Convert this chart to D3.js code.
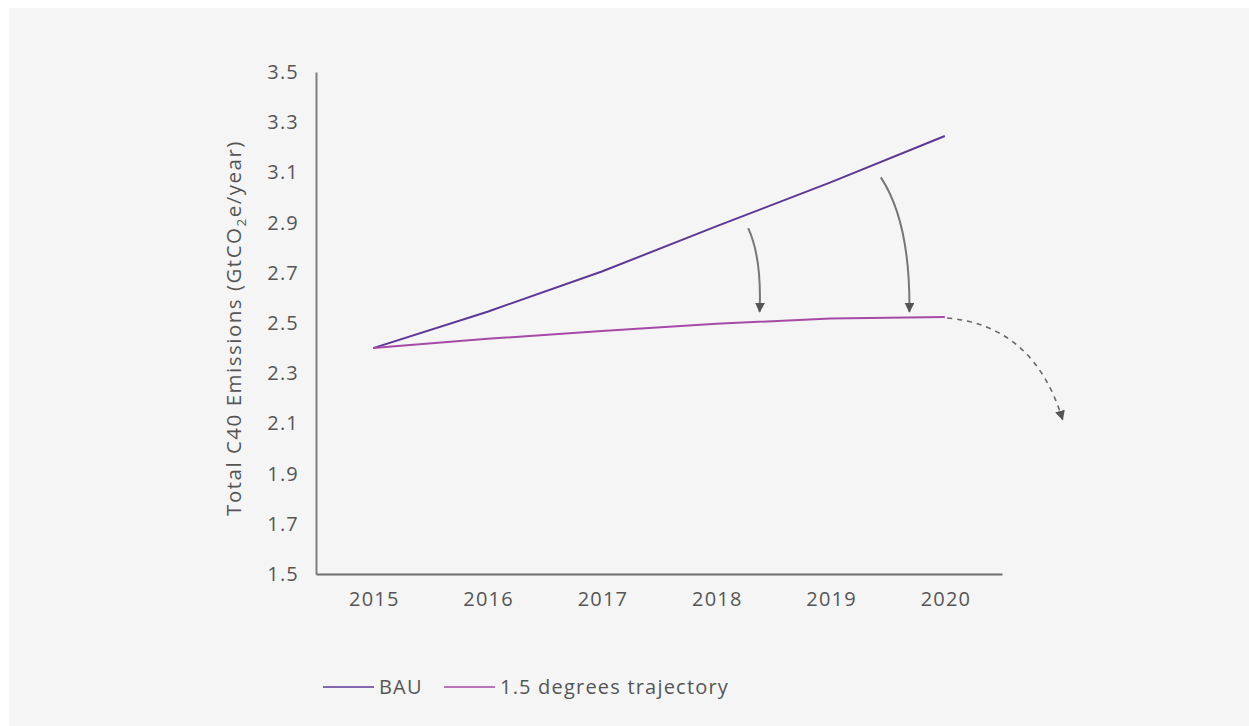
<!DOCTYPE html>
<html>
<head>
<meta charset="utf-8">
<script src="https://cdn.jsdelivr.net/npm/d3@7"></script>
<style>
  html, body { margin: 0; padding: 0; background: #ffffff; }
  svg { display: block; }
  text { font-family: "Open Sans", Lato, sans-serif; fill: #555555; }
</style>
</head>
<body>
<svg id="chart" width="1249" height="726"></svg>
<script>
// ---- data ----
const years = [2015, 2016, 2017, 2018, 2019, 2020];
const bau = [2.40, 2.545, 2.705, 2.885, 3.06, 3.245];
const trajectory = [2.40, 2.437, 2.468, 2.497, 2.518, 2.524];
const yTicks = [1.5, 1.7, 1.9, 2.1, 2.3, 2.5, 2.7, 2.9, 3.1, 3.3, 3.5];
const seriesNames = ["BAU", "1.5 degrees trajectory"];
// annotation arrows in data units (year, GtCO2e)
const arrows = [
  { from: [2018.28, 2.878], ctrl: [2018.40, 2.76], to: [2018.38, 2.545], dashed: false },
  { from: [2019.44, 3.08], ctrl: [2019.70, 2.90], to: [2019.69, 2.545], dashed: false },
  { from: [2020.02, 2.52], ctrl: [2020.78, 2.49], to: [2021.03, 2.115], dashed: true }
];

// ---- layout ----
const svg = d3.select("#chart");
const W = 1249, H = 726;
const margin = { left: 316, right: 247, top: 72, bottom: 152 };
const x0 = margin.left, x1 = W - margin.right;
const yTop = margin.top, yBot = H - margin.bottom;
const FONT = "'Open Sans', Lato, sans-serif";
const FS = 20, LS = 1.2;

svg.append("rect").attr("x", 9).attr("y", 8).attr("width", W - 9).attr("height", H - 8).attr("fill", "#f5f5f5");

const x = d3.scalePoint().domain(years).range([x0, x1]).padding(0.5);
const xLin = d3.scaleLinear().domain([years[0] - 0.5, years[years.length - 1] + 0.5]).range([x0, x1]);
const y = d3.scaleLinear().domain([1.5, 3.5]).range([yBot, yTop]);

// axes
const yAxis = d3.axisLeft(y).tickValues(yTicks).tickFormat(d3.format(".1f")).tickSize(0).tickPadding(17);
const gy = svg.append("g").attr("transform", `translate(${x0},0)`).call(yAxis);
gy.select(".domain").attr("stroke", "#7f7f7f").attr("stroke-width", 2);
gy.selectAll("text").attr("font-size", FS).attr("letter-spacing", LS).attr("fill", "#555").attr("font-family", FONT);

const xAxis = d3.axisBottom(x).tickSize(0).tickPadding(18);
const gx = svg.append("g").attr("transform", `translate(0,${yBot})`).call(xAxis);
gx.select(".domain").attr("stroke", "#6f6f6f").attr("stroke-width", 2);
gx.selectAll("text").attr("font-size", FS).attr("letter-spacing", LS).attr("fill", "#555").attr("font-family", FONT)
  .attr("dx", LS / 2);

// y label
const yl = svg.append("text")
  .attr("transform", `translate(241,${(yTop + yBot) / 2 + 5}) rotate(-90)`)
  .attr("text-anchor", "middle")
  .attr("font-size", 20.5)
  .attr("letter-spacing", 1.5);
yl.append("tspan").text("Total C40 Emissions (GtCO");
yl.append("tspan").text("2").attr("font-size", 13.5).attr("dy", 5);
yl.append("tspan").text("e/year)").attr("dy", -5);

// lines
const colors = ["#5d3795", "#a54aa6"];
const line = d3.line().x((d, i) => x(years[i])).y(d => y(d));
[bau, trajectory].forEach((s, k) => {
  svg.append("path").datum(s).attr("d", line).attr("fill", "none")
    .attr("stroke", colors[k]).attr("stroke-width", 2);
});

// arrow markers
const defs = svg.append("defs");
defs.append("marker").attr("id", "ah").attr("viewBox", "0 0 10 10")
  .attr("refX", 9).attr("refY", 5).attr("markerWidth", 10).attr("markerHeight", 10)
  .attr("markerUnits", "userSpaceOnUse").attr("orient", "auto")
  .append("path").attr("d", "M0,0 L10,5 L0,10 Z").attr("fill", "#555");

arrows.forEach(a => {
  const p = d3.path();
  p.moveTo(xLin(a.from[0]), y(a.from[1]));
  p.quadraticCurveTo(xLin(a.ctrl[0]), y(a.ctrl[1]), xLin(a.to[0]), y(a.to[1]));
  svg.append("path").attr("d", p.toString()).attr("fill", "none")
    .attr("stroke", a.dashed ? "#666" : "#777").attr("stroke-width", a.dashed ? 1.6 : 2)
    .attr("stroke-dasharray", a.dashed ? "5,5" : null)
    .attr("marker-end", "url(#ah)");
});

// legend
const lg = svg.append("g").attr("transform", "translate(323,687)");
seriesNames.forEach((n, k) => {
  const g = lg.append("g").attr("transform", `translate(${k === 0 ? 0 : 121},0)`);
  g.append("line").attr("x1", 0).attr("x2", 51).attr("y1", 0).attr("y2", 0)
    .attr("stroke", colors[k]).attr("stroke-width", 1.5);
  g.append("text").attr("x", 56).attr("y", 7).attr("font-size", FS).attr("letter-spacing", LS).text(n);
});
</script>
</body>
</html>
